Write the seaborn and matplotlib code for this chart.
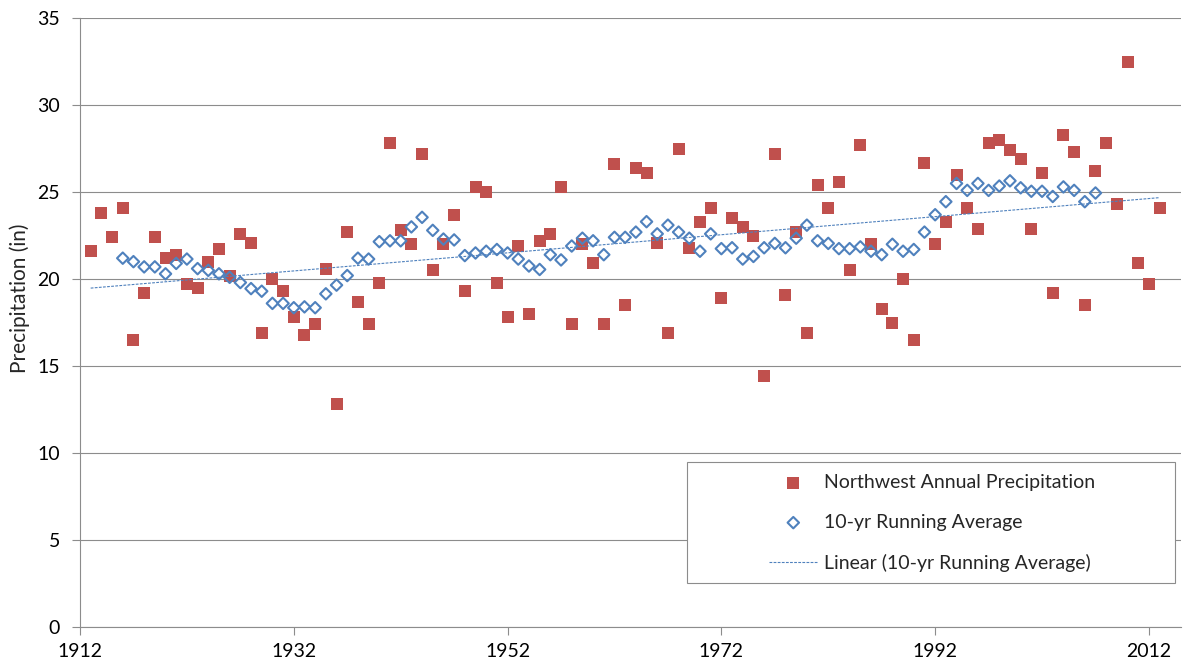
import matplotlib
matplotlib.use("Agg")
import matplotlib.pyplot as plt
import matplotlib.patches as patches
import numpy as np
import pandas as pd
import seaborn as sns

# Annual precipitation, 1913-2013
years = list(range(1913, 2014))
precip = [21.6, 23.8, 22.4, 24.1, 16.5, 19.2, 22.4, 21.2, 21.4, 19.7,
          19.5, 21.0, 21.7, 20.2, 22.6, 22.1, 16.9, 20.0, 19.3, 17.8,
          16.8, 17.4, 20.6, 12.8, 22.7, 18.7, 17.4, 19.8, 27.8, 22.8,
          22.0, 27.2, 20.5, 22.0, 23.7, 19.3, 25.3, 25.0, 19.8, 17.8,
          21.9, 18.0, 22.2, 22.6, 25.3, 17.4, 22.0, 20.9, 17.4, 26.6,
          18.5, 26.4, 26.1, 22.1, 16.9, 27.5, 21.8, 23.3, 24.1, 18.9,
          23.5, 23.0, 22.5, 14.4, 27.2, 19.1, 22.7, 16.9, 25.4, 24.1,
          25.6, 20.5, 27.7, 22.0, 18.3, 17.5, 20.0, 16.5, 26.7, 22.0,
          23.3, 26.0, 24.1, 22.9, 27.8, 28.0, 27.4, 26.9, 22.9, 26.1,
          19.2, 28.3, 27.3, 18.5, 26.2, 27.8, 24.3, 32.5, 20.9, 19.7,
          24.1]

# 10-yr running average, 1916-2007
avg_years = list(range(1916, 2008))
running_avg = [21.2, 21.0, 20.7, 20.7, 20.3, 20.9, 21.15, 20.6, 20.5, 20.3,
               20.1, 19.8, 19.45, 19.3, 18.6, 18.6, 18.35, 18.4, 18.35, 19.15,
               19.65, 20.2, 21.2, 21.15, 22.15, 22.2, 22.2, 23.0, 23.55, 22.8,
               22.3, 22.25, 21.35, 21.5, 21.6, 21.7, 21.5, 21.15, 20.75, 20.55,
               21.4, 21.1, 21.9, 22.35, 22.2, 21.4, 22.4, 22.4, 22.7, 23.3,
               22.6, 23.1, 22.7, 22.35, 21.6, 22.6, 21.75, 21.8, 21.15, 21.3,
               21.8, 22.05, 21.8, 22.35, 23.1, 22.2, 22.05, 21.75, 21.75, 21.85,
               21.6, 21.4, 22.0, 21.6, 21.7, 22.7, 23.7, 24.45, 25.5, 25.1,
               25.5, 25.1, 25.35, 25.65, 25.25, 25.05, 25.05, 24.75, 25.3, 25.1,
               24.45, 24.95]

df_p = pd.DataFrame({'year': years, 'precip': precip})
df_a = pd.DataFrame({'year': avg_years, 'avg': running_avg})

sns.set_style("white")
plt.rcParams['font.family'] = ['Lato', 'DejaVu Sans']

red = '#C0504D'
blue = '#4F81BD'
grid = '#8C8C8C'

fig = plt.figure(figsize=(11.83, 6.70), dpi=100)
ax = fig.add_axes([80 / 1183, 43.3 / 670, 1101 / 1183, 608.4 / 670])

sns.scatterplot(data=df_p, x='year', y='precip', ax=ax, marker='s', s=68,
                color=red, linewidth=0, label='Northwest Annual Precipitation', zorder=3)
sns.scatterplot(data=df_a, x='year', y='avg', ax=ax, marker='D', s=34,
                facecolor='none', edgecolor=blue, linewidth=1.5,
                label='10-yr Running Average', zorder=4)

# linear trendline of the running average
slope, intercept = np.polyfit(avg_years, running_avg, 1)
tx = np.array([years[0], years[-1]])
ax.plot(tx, slope * tx + intercept, color=blue, lw=0.8, linestyle=(0, (2.5, 1.2)),
        label='Linear (10-yr Running Average)', zorder=5)

ax.set_xlim(1912, 2015)
ax.set_ylim(0, 35)
ax.set_xticks([1912, 1932, 1952, 1972, 1992, 2012])
ax.set_yticks(range(0, 36, 5))
ax.yaxis.grid(True, color=grid, lw=0.8)
ax.xaxis.grid(False)
ax.set_axisbelow(True)
for s in ['top', 'right']:
    ax.spines[s].set_visible(False)
for s in ['left', 'bottom']:
    ax.spines[s].set_color(grid)
    ax.spines[s].set_linewidth(0.8)
ax.tick_params(axis='both', which='major', labelsize=14, colors=grid, labelcolor='black',
               length=5.5, width=0.8, direction='out')
ax.tick_params(axis='x', bottom=True, pad=6)
ax.tick_params(axis='y', left=True, pad=9)
ax.set_xlabel('')
ax.set_ylabel('Precipitation (in)', fontsize=15)
ax.yaxis.set_label_coords(-0.045, 0.54)

# legend box (Excel style, wider than its content)
box = patches.Rectangle((687 / 1183, 87 / 670), 488 / 1183, 121 / 670,
                        transform=fig.transFigure, facecolor='white',
                        edgecolor=grid, lw=0.8, zorder=6, clip_on=False)
ax.add_patch(box)
leg = ax.legend(loc='upper left', bbox_to_anchor=(769 / 1183, 1 - 474 / 670),
                bbox_transform=fig.transFigure, frameon=False, fontsize=14,
                borderpad=0, borderaxespad=0, handlelength=2.5, handletextpad=0.31,
                labelspacing=1.17)
leg.set_zorder(7)

fig.savefig('out.png', dpi=100)
